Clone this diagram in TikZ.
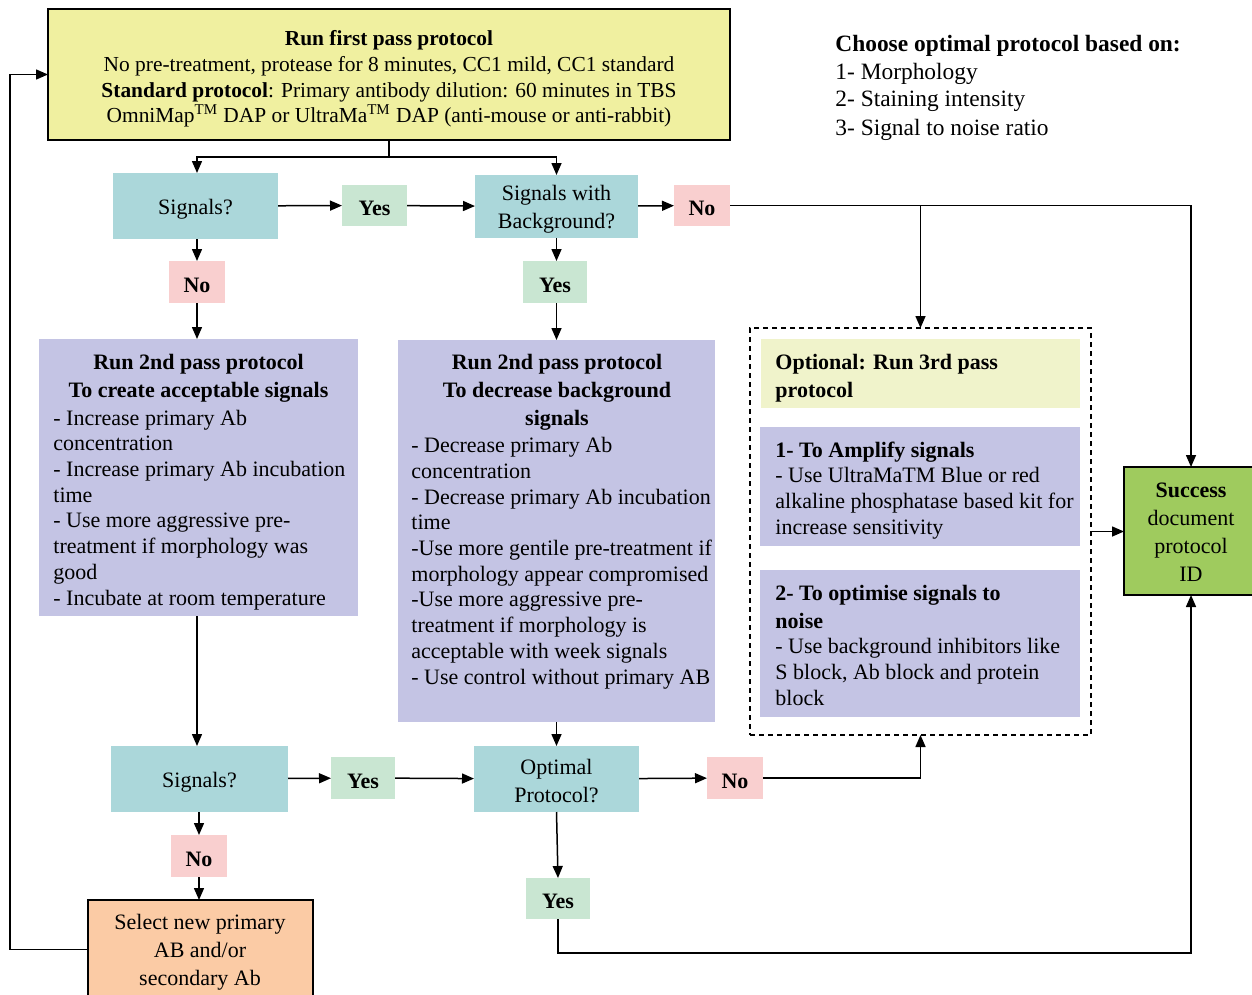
\documentclass[tikz,border=0pt]{standalone}
\usepackage{fontspec}
\setmainfont{Liberation Serif}
\usetikzlibrary{arrows.meta,fit,calc}
\definecolor{ybox}{HTML}{F0F0A0}
\definecolor{tbox}{HTML}{ABD7DA}
\definecolor{ylab}{HTML}{C9E6D2}
\definecolor{nlab}{HTML}{F9CFCF}
\definecolor{pbox}{HTML}{C4C4E4}
\definecolor{obox}{HTML}{F0F3CB}
\definecolor{gbox}{HTML}{9FCB5E}
\definecolor{orbox}{HTML}{FBCBA5}
\tikzset{
  bx/.style={inner sep=0pt, outer sep=0pt, align=center, font=\fontsize{11}{12.85}\selectfont},
  bxb/.style={bx, draw=black, line width=1pt},
  lab/.style={inner sep=0pt, outer sep=0pt, font=\fontsize{11}{12.85}\selectfont\bfseries},
  dn/.style={yshift=-1.5pt},
  txt/.style={inner sep=0pt, align=left, font=\fontsize{11}{12.85}\selectfont},
  hd/.style={inner sep=0pt, font=\fontsize{11}{14}\selectfont\bfseries},
  arr/.style={-{Triangle[length=6pt,width=5pt]}, line width=0.75pt},
  ln/.style={line width=0.75pt}
}
\begin{document}
\begin{tikzpicture}[x=0.5pt,y=-0.5pt]
\useasboundingbox (0,0) rectangle (1252,995);
% boxes
\node[bxb, fill=ybox, fit={(48,9) (730,140)}] (top) {};
\node[bx, fill=tbox, fit={(113,173) (278,239)}] (sig1) {};
\node[lab, fill=ylab, fit={(342,185) (407,226)}] (yes1) {};
\node[bx, fill=tbox, fit={(475,175) (638,238)}] (swb) {};
\node[lab, fill=nlab, fit={(674,185) (730,226)}] (no1) {};
\node[lab, fill=nlab, fit={(169,261) (225,303)}] (no2) {};
\node[lab, fill=ylab, fit={(523,261) (587,303)}] (yes2) {};
\node[bx, fill=pbox, fit={(39,339) (358,616)}] (p1) {};
\node[bx, fill=pbox, fit={(398,340) (715,722)}] (p2) {};
\node[bx, draw=black, line width=0.7pt, dash pattern=on 2.5pt off 2pt, fit={(750,328) (1091,735)}] (dash) {};
\node[bx, fill=obox, fit={(761,339) (1080,408)}] (opt) {};
\node[bx, fill=pbox, fit={(760,427) (1080,546)}] (amp) {};
\node[bx, fill=pbox, fit={(760,570) (1080,717)}] (optim) {};
\node[bxb, fill=gbox, fit={(1124,467) (1258,595)}] (succ) {};
\node[bx, fill=tbox, fit={(111,746) (288,812)}] (sig2) {};
\node[lab, fill=ylab, fit={(331,757) (395,799)}] (yes3) {};
\node[bx, fill=tbox, fit={(474,746) (639,812)}] (optp) {};
\node[lab, fill=nlab, fit={(707,757) (763,799)}] (no3) {};
\node[lab, fill=nlab, fit={(171,835) (227,877)}] (no4) {};
\node[lab, fill=ylab, fit={(526,878) (590,919)}] (yes4) {};
\node[bxb, fill=orbox, fit={(88,900) (313,999)}] (ornb) {};
% texts
\node[bx, font=\fontsize{10.7}{12.85}\selectfont] (toptxt) at (389,79) {\textbf{Run first pass protocol}\\No pre-treatment, protease for 8 minutes, CC1 mild, CC1 standard\\\textbf{Standard protocol}: Primary antibody dilution: 60 minutes in TBS\\OmniMap\textsuperscript{TM} DAP or UltraMa\textsuperscript{TM} DAP (anti-mouse or anti-rabbit)};
\node[inner sep=0pt, align=left, anchor=base west, font=\fontsize{11.7}{14}\selectfont] (legend) at (835,135) {\textbf{Choose optimal protocol based on:}\\1- Morphology\\2- Staining intensity\\3- Signal to noise ratio};
\node[bx, dn] (sig1t) at (sig1) {Signals?};
\node[lab, dn] (yes1t) at (yes1) {Yes};
\node[bx, dn, font=\fontsize{11}{14}\selectfont] (swbt) at (swb) {Signals with\\Background?};
\node[lab, dn] (no1t) at (no1) {No};
\node[lab, dn] (no2t) at (no2) {No};
\node[lab, dn] (yes2t) at (yes2) {Yes};
\node[hd, align=center, anchor=base] (p1h) at (198.5,397) {Run 2nd pass protocol\\To create acceptable signals};
\node[txt, anchor=base west] (p1b) at (53,605) {- Increase primary Ab\\concentration\\- Increase primary Ab incubation\\time\\- Use more aggressive pre-\\treatment if morphology was\\good\\- Incubate at room temperature};
\node[hd, align=center, anchor=base] (p2h) at (557,425) {Run 2nd pass protocol\\To decrease background\\signals};
\node[txt, anchor=base west] (p2b) at (411,684) {- Decrease primary Ab\\concentration\\- Decrease primary Ab incubation\\time\\-Use more gentile pre-treatment if\\morphology appear compromised\\-Use more aggressive pre-\\treatment if morphology is\\acceptable with week signals\\- Use control without primary AB};
\node[hd, align=left, anchor=base west] (opth) at (775,397) {Optional: Run 3rd pass\\protocol};
\node[hd, align=left, anchor=base west] (amph) at (775,457) {1- To Amplify signals};
\node[txt, anchor=base west] (ampb) at (775,534) {- Use UltraMaTM Blue or red\\alkaline phosphatase based kit for\\increase sensitivity};
\node[hd, align=left, anchor=base west] (optimh) at (775,628) {2- To optimise signals to\\noise};
\node[txt, anchor=base west] (optimb) at (775,705) {- Use background inhibitors like\\S block, Ab block and protein\\block};
\node[bx, font=\fontsize{11}{14}\selectfont] (succt) at (1191,532) {\textbf{Success}\\document\\protocol\\ID};
\node[bx, dn] (sig2t) at (sig2) {Signals?};
\node[lab, dn] (yes3t) at (yes3) {Yes};
\node[bx, font=\fontsize{11}{14}\selectfont, yshift=-1pt] (optpt) at (optp) {Optimal\\Protocol?};
\node[lab, dn] (no3t) at (no3) {No};
\node[lab, dn] (no4t) at (no4) {No};
\node[lab, dn] (yes4t) at (yes4) {Yes};
\node[bx, font=\fontsize{11}{14}\selectfont] (ornt) at (200,952) {Select new primary\\AB and/or\\secondary Ab};
% connectors
\coordinate (split) at (389,157);
\draw[ln] (top.south -| split) -- (split);
\draw[arr] (split) -| (sig1.north -| no2.north);
\draw[arr] (split) -| (swb.north);
\draw[arr] (sig1) -- (yes1);
\draw[arr] (yes1) -- (swb);
\draw[arr] (swb) -- (no1);
\draw[arr] (no1.east) -| (succ.north);
\coordinate (j1) at (dash.north |- no1.east);
\draw[arr] (j1) -- (dash.north);
\draw[arr] (no2.north |- sig1.south) -- (no2.north);
\draw[arr] (no2.south) -- (no2.south |- p1.north);
\draw[arr] (swb.south) -- (yes2.north -| swb.south);
\draw[arr] (yes2.south -| swb.south) -- (swb.south |- p2.north);
\draw[arr] (p1.south -| no2.south) -- (no2.south |- sig2.north);
\draw[arr] (p2.south) -- (optp.north);
\draw[arr] (sig2) -- (yes3);
\draw[arr] (yes3) -- (optp);
\draw[arr] (optp) -- (no3);
\draw[arr] (no3.east) -| (dash.south);
\draw[arr] (dash.east) -- (dash.east -| succ.west);
\draw[arr] (sig2.south -| no4.north) -- (no4.north);
\draw[arr] (no4.south) -- (no4.south |- ornb.north);
\coordinate (lp) at (10,0);
\draw[arr] (ornb.west) -- (ornb.west -| lp) |- (top.west);
\draw[arr] (optp.south) -- (yes4.north);
\coordinate (bot) at (0,953);
\draw[arr] (yes4.south) -- (yes4.south |- bot) -| (succ.south);
\end{tikzpicture}
\end{document}
